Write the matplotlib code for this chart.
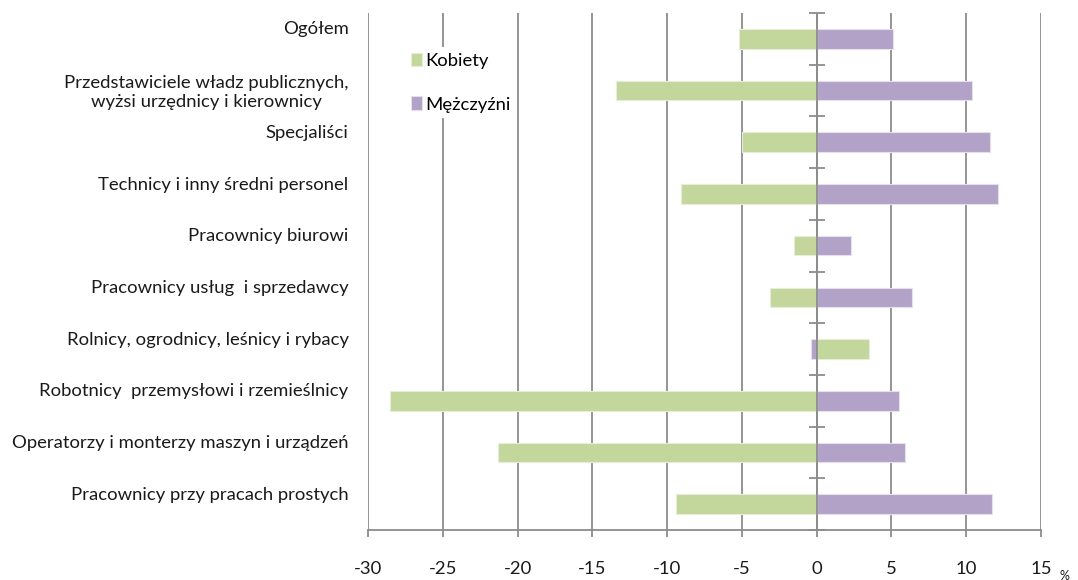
import numpy as np
import matplotlib
matplotlib.use("Agg")
import matplotlib.pyplot as plt

plt.rcParams["font.family"] = ["Lato", "DejaVu Sans"]

categories = [
    "Ogółem",
    "Przedstawiciele władz publicznych,\nwyżsi urzędnicy i kierownicy",
    "Specjaliści",
    "Technicy i inny średni personel",
    "Pracownicy biurowi",
    "Pracownicy usług  i sprzedawcy",
    "Rolnicy, ogrodnicy, leśnicy i rybacy",
    "Robotnicy  przemysłowi i rzemieślnicy",
    "Operatorzy i monterzy maszyn i urządzeń",
    "Pracownicy przy pracach prostych",
]
kobiety = [-5.2, -13.4, -5.0, -9.1, -1.5, -3.1, 3.5, -28.5, -21.3, -9.4]
mezczyzni = [5.1, 10.4, 11.6, 12.1, 2.3, 6.4, -0.4, 5.5, 5.9, 11.7]
xticks = [-30, -25, -20, -15, -10, -5, 0, 5, 10, 15]

GREEN = "#C3D69B"
PURPLE = "#B3A2C7"
GRID = "#8C8C8C"
TXT = "#1a1a1a"
FS = 13.3

fig = plt.figure(figsize=(10.78, 5.80), dpi=100)
ax = fig.add_axes([368 / 1078, 1 - 530 / 580, (1041 - 368) / 1078, (530 - 13) / 580])

y = np.arange(len(categories))
ax.barh(y, kobiety, height=0.38, color=GREEN, edgecolor="#E6EEDA", linewidth=0.8,
        label="Kobiety", zorder=3)
ax.barh(y, mezczyzni, height=0.38, color=PURPLE, edgecolor="#E6E0EE", linewidth=0.8,
        label="Mężczyźni", zorder=3)

ax.set_xlim(xticks[0], xticks[-1])
ax.set_ylim(len(categories) - 0.5, -0.5)

ax.set_xticks(xticks)
ax.set_xticklabels([str(t) for t in xticks])
ax.grid(axis="x", color=GRID, linewidth=1.3, zorder=0)

# etykiety jednowierszowe stoja troche wyzej niz srodek slupka (jak w Excelu)
label_pos = [i - (0.02 if "\n" in c else 0.21) for i, c in enumerate(categories)]
ax.set_yticks(label_pos)
ax.set_yticklabels(categories)
for lab in ax.get_yticklabels():
    lab.set_multialignment("center")
ax.tick_params(axis="y", length=0, pad=14, labelsize=FS, colors=TXT)
ax.tick_params(axis="x", direction="out", length=5, width=1.3, color=GRID,
               pad=17, labelsize=FS, labelcolor=TXT)

for side in ("left", "right", "top"):
    ax.spines[side].set_visible(False)
ax.spines["bottom"].set_color(GRID)
ax.spines["bottom"].set_linewidth(1.3)

# os kategorii w zerze z kreskami na granicach kategorii
ax.axvline(0, color=GRID, linewidth=1.3, zorder=4)
bounds = np.arange(len(categories) + 1) - 0.5
ax.plot(np.zeros_like(bounds), bounds, linestyle="none", marker="_",
        markersize=11, markeredgewidth=1.3, color=GRID, zorder=4, clip_on=False)

leg = ax.legend(loc="upper left", bbox_to_anchor=(405 / 1078, 1 - 47 / 580),
                bbox_transform=fig.transFigure, frameon=True, fancybox=False,
                edgecolor="none", facecolor="white", framealpha=1,
                fontsize=FS, labelspacing=1.5, handlelength=0.6,
                handleheight=0.75, handletextpad=0.2, borderpad=0.3,
                borderaxespad=0)
leg.set_zorder(5)

fig.text(1060 / 1078, 4 / 580, "%", fontsize=9, ha="left", va="center",
         color=TXT)

fig.savefig("out.png", dpi=100)
